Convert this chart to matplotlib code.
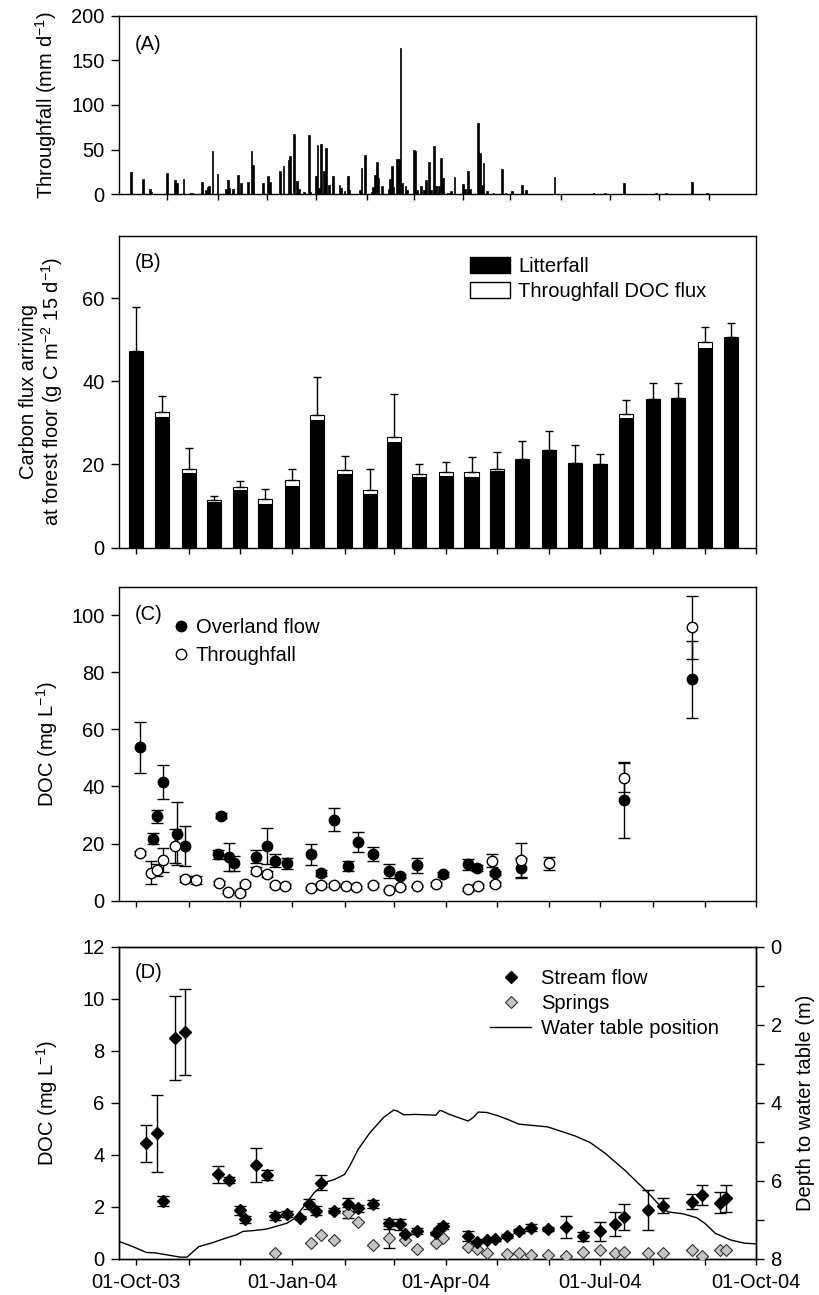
import matplotlib
matplotlib.use("Agg")
import matplotlib.pyplot as plt
import matplotlib.dates as mdates
import pandas as pd
from matplotlib.lines import Line2D
from matplotlib.patches import Patch

plt.rcParams['font.family'] = ['Liberation Sans', 'DejaVu Sans']
plt.rcParams['mathtext.fontset'] = 'custom'
plt.rcParams['mathtext.rm'] = 'Liberation Sans'
plt.rcParams['mathtext.it'] = 'Liberation Sans:italic'
FS = 14.5
plt.rcParams['font.size'] = FS

# ---------------- Panel A: daily throughfall ----------------
tf_dates = ["2003-09-28", "2003-10-05", "2003-10-09", "2003-10-10", "2003-10-19", "2003-10-24",
            "2003-10-25", "2003-10-29",
            "2003-11-02", "2003-11-03", "2003-11-09", "2003-11-11", "2003-11-12", "2003-11-13",
            "2003-11-15", "2003-11-18", "2003-11-23", "2003-11-24", "2003-11-25", "2003-11-27",
            "2003-11-30",
            "2003-12-02", "2003-12-06", "2003-12-08", "2003-12-09", "2003-12-15", "2003-12-18",
            "2003-12-19", "2003-12-25", "2003-12-27", "2003-12-30", "2003-12-31",
            "2004-01-02", "2004-01-04", "2004-01-05", "2004-01-08", "2004-01-11", "2004-01-12",
            "2004-01-15", "2004-01-16", "2004-01-17", "2004-01-18", "2004-01-20", "2004-01-21",
            "2004-01-23", "2004-01-25", "2004-01-29", "2004-01-30",
            "2004-02-01", "2004-02-03", "2004-02-04", "2004-02-10", "2004-02-11", "2004-02-13",
            "2004-02-17", "2004-02-18", "2004-02-19", "2004-02-20", "2004-02-21", "2004-02-23",
            "2004-02-27", "2004-02-28", "2004-02-29",
            "2004-03-01", "2004-03-03", "2004-03-04", "2004-03-05", "2004-03-06", "2004-03-08",
            "2004-03-09", "2004-03-13", "2004-03-14", "2004-03-15", "2004-03-17", "2004-03-19",
            "2004-03-20", "2004-03-22", "2004-03-23", "2004-03-25", "2004-03-26", "2004-03-28",
            "2004-03-29", "2004-03-30",
            "2004-04-02", "2004-04-04", "2004-04-06", "2004-04-11", "2004-04-12", "2004-04-14",
            "2004-04-15", "2004-04-20", "2004-04-21", "2004-04-22", "2004-04-23", "2004-04-25",
            "2004-04-29",
            "2004-05-04", "2004-05-06", "2004-05-10", "2004-05-16", "2004-05-18",
            "2004-06-04", "2004-06-27", "2004-07-04", "2004-07-15", "2004-08-03", "2004-08-09",
            "2004-08-24", "2004-09-02"]
tf_mm = [25.5, 17, 6, 3, 24, 16,
         13, 17,
         2, 2, 14, 5, 8, 9.4,
         49, 23, 5.6, 16, 7, 5.6,
         22,
         13, 14, 48, 33, 13, 20,
         14, 26, 32, 38, 43,
         67.5, 15, 5.6, 3, 66.4, 3,
         21, 55, 7, 56, 26, 52,
         10, 20, 10, 7,
         4, 20, 5, 5, 30, 44,
         3, 8, 22, 36, 18, 9,
         6, 17, 32,
         8, 40, 39, 164, 13, 9,
         5, 50, 49, 5, 9, 5,
         16, 36, 5, 54.4, 9, 9,
         41, 18,
         2, 4, 19, 11, 5.6, 26,
         6, 79.5, 46.5, 10, 35, 4,
         2,
         28, 2, 4, 10, 5,
         19, 1.5, 2, 13, 1, 1,
         14, 1]
tickA_dates = ["2003-10-19", "2003-11-18", "2003-12-17", "2004-01-15", "2004-02-14", "2004-03-13",
               "2004-04-11", "2004-05-09", "2004-06-08", "2004-07-07", "2004-08-05", "2004-09-03"]

# ---------------- Panel B: 15-day carbon flux ----------------
b_dates = ["2003-10-01", "2003-10-16", "2003-11-01", "2003-11-16", "2003-12-01", "2003-12-16",
           "2004-01-01", "2004-01-16", "2004-02-01", "2004-02-16", "2004-03-01", "2004-03-16",
           "2004-04-01", "2004-04-16", "2004-05-01", "2004-05-16", "2004-06-01", "2004-06-16",
           "2004-07-01", "2004-07-16", "2004-08-01", "2004-08-16", "2004-09-01", "2004-09-16"]
litterfall = [47.0, 31.3, 18.0, 11.0, 13.8, 10.6, 14.8, 30.6, 17.8, 13.0, 25.4, 17.0,
              17.2, 17.0, 18.4, 21.2, 23.4, 20.3, 20.0, 31.1, 35.8, 35.9, 47.9, 50.5]
tf_doc_flux = [0.4, 1.3, 1.0, 0.4, 0.8, 1.2, 1.4, 1.3, 0.9, 0.8, 1.2, 0.8,
               1.0, 1.2, 0.6, 0.2, 0.2, 0.1, 0.2, 1.1, 0.0, 0.1, 1.5, 0.1]
flux_err = [10.4, 3.8, 4.9, 1.0, 1.4, 2.4, 2.7, 9.1, 3.4, 5.0, 10.4, 2.2,
            2.4, 3.6, 4.0, 4.2, 4.4, 4.2, 2.4, 3.3, 3.8, 3.5, 3.6, 3.3]

# ---------------- Panel C: DOC overland flow & throughfall ----------------
of_dates = ["2003-10-03", "2003-10-11", "2003-10-13", "2003-10-17", "2003-10-25", "2003-10-30",
            "2003-11-18", "2003-11-20", "2003-11-25", "2003-11-28", "2003-12-11", "2003-12-17",
            "2003-12-22", "2003-12-29", "2004-01-12", "2004-01-18", "2004-01-26", "2004-02-03",
            "2004-02-09", "2004-02-18", "2004-02-27", "2004-03-05", "2004-03-15", "2004-03-30",
            "2004-04-14", "2004-04-19", "2004-04-30", "2004-05-15", "2004-07-15", "2004-08-24"]
of_doc = [53.7, 21.7, 29.5, 41.5, 23.5, 19.1, 16.2, 29.8, 15.3, 13.0, 15.3, 19.2,
          13.9, 13.0, 16.2, 9.7, 28.4, 12.1, 20.5, 16.3, 10.3, 8.6, 12.4, 9.2,
          12.7, 11.3, 9.7, 11.5, 35.1, 77.5]
of_err = [9.0, 2.0, 2.3, 6.0, 11.0, 7.0, 1.7, 1.0, 5.0, 2.6, 2.3, 6.3,
          2.3, 2.1, 3.7, 1.0, 4.0, 1.9, 3.5, 2.6, 2.5, 0.8, 2.7, 0.8,
          1.9, 1.0, 0.8, 3.5, 13.3, 13.5]
tfc_dates = ["2003-10-03", "2003-10-10", "2003-10-13", "2003-10-17", "2003-10-24", "2003-10-30",
             "2003-11-05", "2003-11-19", "2003-11-24", "2003-12-01", "2003-12-04", "2003-12-11",
             "2003-12-17", "2003-12-22", "2003-12-28", "2004-01-12", "2004-01-18", "2004-01-26",
             "2004-02-02", "2004-02-08", "2004-02-18", "2004-02-27", "2004-03-05", "2004-03-15",
             "2004-03-26", "2004-04-14", "2004-04-20", "2004-04-28", "2004-04-30", "2004-05-15",
             "2004-06-01", "2004-07-15", "2004-08-24"]
tfc_doc = [16.7, 9.8, 10.7, 14.2, 19.2, 7.5, 7.2, 6.2, 3.1, 2.5, 5.8, 10.4,
           9.2, 5.4, 5.1, 4.3, 5.4, 5.4, 5.1, 4.6, 5.4, 3.7, 4.6, 5.1,
           5.8, 3.9, 5.1, 13.9, 5.8, 14.2, 13.0, 43.1, 95.8]
tfc_err = [0.8, 4.0, 2.0, 4.2, 6.0, 1.0, 1.5, 0.8, 0.5, 0.5, 0.8, 1.2,
           1.0, 0.6, 0.6, 0.6, 0.6, 0.6, 0.5, 0.5, 0.6, 0.5, 0.5, 0.5,
           0.6, 0.5, 0.6, 2.3, 0.8, 6.0, 2.3, 5.0, 11.0]

# ---------------- Panel D: stream flow, springs, water table ----------------
sf_dates = ["2003-10-07", "2003-10-13", "2003-10-17", "2003-10-24", "2003-10-30", "2003-11-18",
            "2003-11-25", "2003-12-01", "2003-12-04", "2003-12-11", "2003-12-17", "2003-12-22",
            "2003-12-29", "2004-01-06", "2004-01-11", "2004-01-15", "2004-01-18", "2004-01-26",
            "2004-02-03", "2004-02-09", "2004-02-18", "2004-02-27", "2004-03-05", "2004-03-08",
            "2004-03-15", "2004-03-26", "2004-03-28", "2004-03-30", "2004-04-14", "2004-04-19",
            "2004-04-25", "2004-04-30", "2004-05-07", "2004-05-14", "2004-05-21", "2004-05-31",
            "2004-06-11", "2004-06-21", "2004-07-01", "2004-07-10", "2004-07-15", "2004-07-29",
            "2004-08-07", "2004-08-24", "2004-08-30", "2004-09-10", "2004-09-13"]
sf_doc = [4.44, 4.82, 2.22, 8.50, 8.73, 3.25, 3.03, 1.87, 1.51, 3.60, 3.22, 1.64,
          1.72, 1.58, 2.10, 1.85, 2.92, 1.85, 2.09, 1.94, 2.10, 1.39, 1.32, 0.95,
          1.08, 0.98, 1.15, 1.26, 0.87, 0.65, 0.72, 0.75, 0.87, 1.08, 1.20, 1.14,
          1.21, 0.86, 1.05, 1.33, 1.60, 1.88, 2.03, 2.20, 2.45, 2.16, 2.32]
sf_err = [0.72, 1.48, 0.19, 1.62, 1.65, 0.32, 0.12, 0.17, 0.13, 0.64, 0.20, 0.17,
          0.12, 0.05, 0.18, 0.16, 0.28, 0.10, 0.25, 0.14, 0.16, 0.12, 0.20, 0.05,
          0.12, 0.05, 0.05, 0.10, 0.20, 0.05, 0.05, 0.05, 0.08, 0.08, 0.15, 0.08,
          0.42, 0.18, 0.38, 0.45, 0.50, 0.76, 0.29, 0.28, 0.38, 0.40, 0.52]
sp_dates = ["2003-12-22", "2004-01-12", "2004-01-18", "2004-01-26", "2004-02-03", "2004-02-09",
            "2004-02-18", "2004-02-27", "2004-03-08", "2004-03-15", "2004-03-26", "2004-03-30",
            "2004-04-14", "2004-04-19", "2004-04-25", "2004-05-07", "2004-05-14", "2004-05-21",
            "2004-05-31", "2004-06-11", "2004-06-21", "2004-07-01", "2004-07-10", "2004-07-15",
            "2004-07-29", "2004-08-07", "2004-08-24", "2004-08-30", "2004-09-10", "2004-09-13"]
sp_doc = [0.23, 0.62, 0.91, 0.72, 1.77, 1.42, 0.53, 0.78, 0.72, 0.36, 0.59, 0.78,
          0.46, 0.36, 0.22, 0.19, 0.22, 0.15, 0.15, 0.09, 0.26, 0.32, 0.22, 0.26,
          0.22, 0.22, 0.32, 0.11, 0.32, 0.34]
sp_err = [0.0, 0.0, 0.0, 0.0, 0.22, 0.0, 0.0, 0.35, 0.0, 0.0, 0.0, 0.0,
          0.0, 0.0, 0.0, 0.0, 0.0, 0.0, 0.0, 0.0, 0.0, 0.0, 0.0, 0.0,
          0.0, 0.0, 0.0, 0.0, 0.0, 0.0]
wt_dates = ["2003-09-21", "2003-09-29", "2003-10-07", "2003-10-12", "2003-10-19", "2003-10-27",
            "2003-10-31", "2003-11-03", "2003-11-07", "2003-11-15", "2003-11-23", "2003-11-29",
            "2003-12-03", "2003-12-09", "2003-12-17", "2003-12-21", "2003-12-29", "2004-01-02",
            "2004-01-08", "2004-01-14", "2004-01-22", "2004-01-26", "2004-02-01", "2004-02-04",
            "2004-02-09", "2004-02-16", "2004-02-24", "2004-03-01", "2004-03-03", "2004-03-07",
            "2004-03-14", "2004-03-26", "2004-03-28", "2004-03-29", "2004-04-03", "2004-04-14",
            "2004-04-17", "2004-04-20", "2004-04-25", "2004-05-02", "2004-05-08", "2004-05-14",
            "2004-05-31", "2004-06-16", "2004-06-25", "2004-07-04", "2004-07-16", "2004-07-29",
            "2004-08-04", "2004-08-10", "2004-08-19", "2004-08-27", "2004-09-01", "2004-09-07",
            "2004-09-16", "2004-09-24", "2004-10-01"]
wt_depth = [7.56, 7.69, 7.84, 7.85, 7.90, 7.96, 7.96, 7.84, 7.69, 7.59, 7.47, 7.39,
            7.30, 7.28, 7.24, 7.19, 7.09, 6.98, 6.66, 6.31, 6.02, 5.97, 5.84, 5.63,
            5.20, 4.77, 4.38, 4.19, 4.21, 4.31, 4.30, 4.32, 4.21, 4.20, 4.30, 4.47,
            4.38, 4.24, 4.25, 4.34, 4.44, 4.55, 4.62, 4.85, 5.02, 5.30, 5.75, 6.30,
            6.58, 6.80, 6.85, 6.95, 7.10, 7.35, 7.52, 7.60, 7.62]

# ---------------- figure ----------------
def dt(lst):
    return pd.to_datetime(lst).to_pydatetime()

x0 = pd.Timestamp("2003-09-21").to_pydatetime()
x1 = pd.Timestamp("2004-10-01").to_pydatetime()

fig = plt.figure(figsize=(8.19, 12.95), dpi=100)
L, W = 0.14567, 0.77741
axA = fig.add_axes([L, 0.84996, W, 0.13792])
axB = fig.add_axes([L, 0.57707, W, 0.24093])
axC = fig.add_axes([L, 0.30456, W, 0.24240])
axD = fig.add_axes([L, 0.02803, W, 0.24093])

for ax in (axA, axB, axC, axD):
    ax.set_xlim(x0, x1)
    for s in ax.spines.values():
        s.set_linewidth(1.0)
    ax.tick_params(axis='both', which='both', direction='out', width=1.0, labelsize=FS)
    ax.tick_params(axis='y', length=5.5, pad=5)
    ax.tick_params(axis='x', which='both', length=4.5, pad=5.5)

lab_x = -0.093

# Panel A
axA.bar(dt(tf_dates), tf_mm, width=1.0, color='black', edgecolor='black', linewidth=0.5)
axA.set_ylim(0, 200)
axA.set_yticks([0, 50, 100, 150, 200])
axA.set_xticks(dt(tickA_dates))
axA.tick_params(axis='x', labelbottom=False)
axA.set_ylabel(r'Throughfall (mm d$^{-1}$)', fontsize=FS)
axA.yaxis.set_label_coords(-0.095, 0.5)
axA.text(0.0247, 0.836, '(A)', transform=axA.transAxes, fontsize=FS, va='center', ha='left')

# Panel B
bx = dt(b_dates)
totals = [a + b for a, b in zip(litterfall, tf_doc_flux)]
axB.bar(bx, litterfall, width=8.3, color='black', edgecolor='black', linewidth=0.8)
axB.bar(bx, tf_doc_flux, width=8.3, bottom=litterfall, color='white', edgecolor='black', linewidth=0.8)
axB.errorbar(bx, totals, yerr=[[0] * len(totals), flux_err], fmt='none', ecolor='black',
             elinewidth=1.0, capsize=3.2, capthick=1.0)
axB.set_ylim(0, 75)
axB.set_yticks([0, 20, 40, 60])
axB.xaxis.set_major_locator(mdates.MonthLocator())
axB.tick_params(axis='x', labelbottom=False)
axB.set_ylabel('Carbon flux arriving\n' + r'at forest floor (g C m$^{-2}$ 15 d$^{-1}$)',
               fontsize=FS, linespacing=1.05)
axB.yaxis.set_label_coords(-0.085, 0.5)
axB.text(0.0247, 0.9125, '(B)', transform=axB.transAxes, fontsize=FS, va='center', ha='left')
handlesB = [Patch(facecolor='black', edgecolor='black', label='Litterfall'),
            Patch(facecolor='white', edgecolor='black', label='Throughfall DOC flux')]
axB.legend(handles=handlesB, loc='upper left', bbox_to_anchor=(0.551, 0.932), frameon=False,
           borderpad=0, borderaxespad=0, handlelength=2.0, handleheight=0.8,
           handletextpad=0.4, labelspacing=0.3, fontsize=FS)

# Panel C
ofx = dt(of_dates)
tcx = dt(tfc_dates)
axC.errorbar(ofx, of_doc, yerr=of_err, fmt='none', ecolor='black', elinewidth=1.0,
             capsize=4.5, capthick=1.0, zorder=2)
axC.errorbar(tcx, tfc_doc, yerr=tfc_err, fmt='none', ecolor='black', elinewidth=1.0,
             capsize=4.5, capthick=1.0, zorder=2)
axC.plot(ofx, of_doc, 'o', ms=7.5, mfc='black', mec='black', zorder=3, label='Overland flow')
axC.plot(tcx, tfc_doc, 'o', ms=7.5, mfc='white', mec='black', mew=1.0, zorder=4,
         label='Throughfall')
axC.set_ylim(0, 110)
axC.set_yticks([0, 20, 40, 60, 80, 100])
axC.xaxis.set_major_locator(mdates.MonthLocator())
axC.tick_params(axis='x', labelbottom=False)
axC.set_ylabel(r'DOC (mg L$^{-1}$)', fontsize=FS)
axC.yaxis.set_label_coords(lab_x, 0.5)
axC.text(0.0247, 0.91, '(C)', transform=axC.transAxes, fontsize=FS, va='center', ha='left')
axC.legend(loc='upper left', bbox_to_anchor=(0.0847, 0.900), frameon=False, borderpad=0,
           borderaxespad=0, handlelength=0.8, handletextpad=0.32, labelspacing=0.45,
           fontsize=FS, numpoints=1)

# Panel D
axD2 = axD.twinx()
axD2.set_xlim(x0, x1)
axD2.plot(dt(wt_dates), wt_depth, color='black', lw=1.0)
axD2.set_ylim(8, 0)
axD2.set_yticks([0, 1, 2, 3, 4, 5, 6, 7, 8])
axD2.set_yticklabels(['0', '', '2', '', '4', '', '6', '', '8'])
axD2.tick_params(axis='y', direction='out', length=5.5, width=1.0, pad=5, labelsize=FS)
for s in axD2.spines.values():
    s.set_linewidth(1.0)
axD2.set_ylabel('Depth to water table (m)', fontsize=FS)
axD2.yaxis.set_label_coords(1.063, 0.5)
axD.set_zorder(axD2.get_zorder() + 1)
axD.patch.set_visible(False)

sfx = dt(sf_dates)
spx = dt(sp_dates)
axD.errorbar(sfx, sf_doc, yerr=sf_err, fmt='none', ecolor='black', elinewidth=1.0,
             capsize=4.5, capthick=1.0, zorder=2)
axD.errorbar(spx, sp_doc, yerr=sp_err, fmt='none', ecolor='black', elinewidth=1.0,
             capsize=4.5, capthick=1.0, zorder=2)
axD.plot(spx, sp_doc, 'D', ms=6.5, mfc='#c4c4c4', mec='#333333', mew=0.8, zorder=3)
axD.plot(sfx, sf_doc, 'D', ms=6.5, mfc='black', mec='black', zorder=4)
axD.set_ylim(0, 12)
axD.set_yticks([0, 2, 4, 6, 8, 10, 12])
axD.xaxis.set_major_locator(mdates.MonthLocator(bymonth=[1, 4, 7, 10]))
axD.xaxis.set_minor_locator(mdates.MonthLocator())
axD.xaxis.set_major_formatter(mdates.DateFormatter('%d-%b-%y'))
axD.set_ylabel(r'DOC (mg L$^{-1}$)', fontsize=FS)
axD.yaxis.set_label_coords(lab_x, 0.5)
axD.text(0.0247, 0.917, '(D)', transform=axD.transAxes, fontsize=FS, va='center', ha='left')
handlesD = [Line2D([], [], marker='D', ls='none', ms=6.5, mfc='black', mec='black',
                   label='Stream flow'),
            Line2D([], [], marker='D', ls='none', ms=6.5, mfc='#c4c4c4', mec='#333333',
                   mew=0.8, label='Springs'),
            Line2D([], [], color='black', lw=1.0, label='Water table position')]
axD.legend(handles=handlesD, loc='upper left', bbox_to_anchor=(0.583, 0.9286), frameon=False,
           borderpad=0, borderaxespad=0, handlelength=2.0, handletextpad=0.5,
           labelspacing=0.3, fontsize=FS, numpoints=1)

fig.savefig('out.png', dpi=100)
